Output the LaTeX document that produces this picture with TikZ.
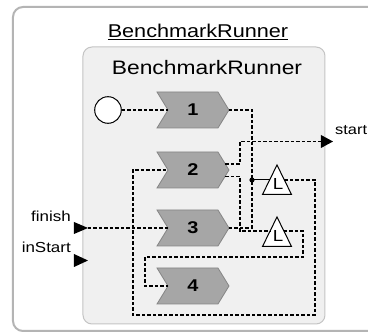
\documentclass[tikz,border=0pt]{standalone}
\usepackage{fontspec}
\setmainfont[FakeStretch=1.17]{Liberation Sans}
\usetikzlibrary{shapes.symbols,calc}
\definecolor{outerline}{HTML}{B4B4B4}
\definecolor{innerfill}{HTML}{F0F0F0}
\definecolor{innerline}{HTML}{C4C4C4}
\definecolor{chevfill}{HTML}{A6A6A6}
\definecolor{chevline}{HTML}{858585}
\begin{document}
\begin{tikzpicture}[x=1pt,y=-1pt,
  chev/.style={signal, signal to=east, signal from=west, signal pointer angle=117,
    minimum width=72pt, minimum height=36pt, inner sep=0pt,
    fill=chevfill, draw=chevline, line width=0.8pt,
    font=\fontsize{17}{17}\selectfont\bfseries},
  wire/.style={draw=black, line width=1.1pt, dash pattern=on 3.5pt off 2pt},
  latch/.style={draw=black, fill=white, line width=1pt, line join=miter},
  porttri/.style={fill=black},
  lbl/.style={font=\fontsize{14.5}{14.5}\selectfont, inner sep=0pt},
  title/.style={font=\fontsize{18.5}{18.5}\selectfont, inner sep=0pt, anchor=base}]
\useasboundingbox (0,0) rectangle (368,334);
\fill[white] (0,0) rectangle (368,334);

% enclosing component and its inner region
\draw[outerline, line width=2pt, fill=white, rounded corners=10pt] (13,7) rectangle (385,331);
\node[title] (outertitle) at (198,38) {\underline{BenchmarkRunner}};
\draw[innerline, line width=1pt, fill=innerfill, rounded corners=9pt] (83,47) rectangle (325,324);
\node[title, font=\fontsize{19.5}{19.5}\selectfont] (innertitle) at (207,75) {BenchmarkRunner};

% initial state
\node[circle, draw=black, fill=white, line width=1pt, minimum size=26.6pt, inner sep=0pt] (init) at (108,110) {};

% steps
\node[chev] (c1) at (193,110) {1};
\node[chev] (c2) at (193,170) {2};
\node[chev] (c3) at (193,228) {3};
\node[chev] (c4) at (193,286) {4};
\foreach \n in {c1,c2,c3,c4}{
  \coordinate (\n in) at ([xshift=-25pt]\n.center);
  \coordinate (\n out) at ([xshift=36pt]\n.center);
}
\coordinate (c2outA) at ([xshift=32.3pt,yshift=6pt]c2.center);
\coordinate (c2outB) at ([xshift=32.3pt,yshift=-6.5pt]c2.center);

% latches
\draw[latch] (277,165) -- (291.5,194.5) -- (262.5,194.5) -- cycle;
\node[font=\fontsize{16}{16}\selectfont, inner sep=0pt] (L1) at (278,184) {L};
\draw[latch] (277,217) -- (291.5,246.5) -- (262.5,246.5) -- cycle;
\node[font=\fontsize{16}{16}\selectfont, inner sep=0pt] (L2) at (278,236) {L};
\coordinate (L1in) at (269.6,180);
\coordinate (L1out) at (284.4,180);
\coordinate (L2in) at (270.1,231);
\coordinate (L2out) at (283.9,231);

% ports
\fill[porttri] (321,135) -- (333,141.5) -- (321,148) -- cycle;
\coordinate (startP) at (321,141.5);
\node[lbl, anchor=base west, font=\fontsize{14}{14}\selectfont] (startlbl) at (335,135) {start};
\fill[porttri] (74,222) -- (88,228) -- (74,234) -- cycle;
\coordinate (finishP) at (88,228);
\node[lbl, anchor=base east] (finishlbl) at (71,221.5) {finish};
\fill[porttri] (74,254) -- (88,260.5) -- (74,267) -- cycle;
\node[lbl, anchor=base east] (instartlbl) at (71,253) {inStart};

% junction
\coordinate (dot) at (252,180);

% connectors
\draw[wire] (init.east) -- (c1in);
\draw[wire] (c1out) -| (dot);
\draw[wire] (c3out) -| (dot);
\draw[line width=1pt] (dot) -- (L1in);
\fill (dot) circle (2.6pt);
\draw[wire] (L1out) -| (315,315) -| (133,170) -- (c2in);
\draw[wire] (c2outA) -| (240,141.5) -- (startP);
\draw[wire] (c2outB) -| (240,231) -- (L2in);
\draw[wire] (L2out) -| (303,257) -| (145,286) -- (c4in);
\draw[wire] (finishP) -- (c3in);
\end{tikzpicture}
\end{document}
